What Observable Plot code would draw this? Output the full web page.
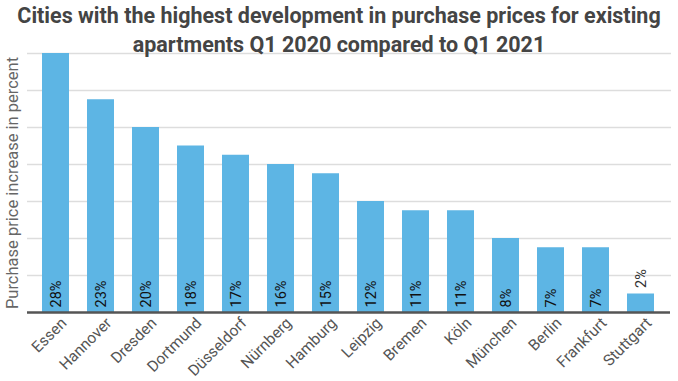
<!DOCTYPE html>
<html>
<head>
<meta charset="utf-8">
<script src="https://cdn.jsdelivr.net/npm/d3@7"></script>
<script src="https://cdn.jsdelivr.net/npm/@observablehq/plot@0.6"></script>
<style>
  html, body { margin: 0; padding: 0; background: #fff; }
  #wrap { position: relative; width: 678px; height: 381px; font-family: Roboto, sans-serif; }
  #title { position: absolute; left: 0; top: 0; width: 678px; text-align: center; font-weight: bold; font-size: 21.5px; line-height: 29px; color: #444; padding-top: 1px; z-index: 2; pointer-events: none; }
  #chart { position: absolute; left: 0; top: 0; }
</style>
</head>
<body>
<div id="wrap">
  <div id="title">Cities with the highest development in purchase prices for existing<br>apartments Q1 2020 compared to Q1 2021</div>
  <div id="chart"></div>
</div>
<script>
const cities = ["Essen", "Hannover", "Dresden", "Dortmund", "Düsseldorf", "Nürnberg", "Hamburg", "Leipzig", "Bremen", "Köln", "München", "Berlin", "Frankfurt", "Stuttgart"];
const increases = [28, 23, 20, 18, 17, 16, 15, 12, 11, 11, 8, 7, 7, 2];
const gridTicks = [0, 4, 8, 12, 16, 20, 24, 28];
const yLabel = "Purchase price increase in percent";

const data = cities.map((c, i) => ({city: c, v: increases[i]}));

const chart = Plot.plot({
  width: 678,
  height: 381,
  marginTop: 53,
  marginBottom: 69,
  marginLeft: 31,
  marginRight: 13,
  style: {fontFamily: "Roboto, sans-serif", background: "transparent"},
  x: {domain: cities, paddingInner: 0.4, paddingOuter: 0.2, label: null},
  y: {domain: [0, 28], label: null},
  marks: [
    Plot.ruleY(gridTicks.filter(t => t > 0), {stroke: "#dddddd", strokeWidth: 1.5, insetLeft: -4, insetRight: -6}),
    Plot.barY(data, {x: "city", y: "v", fill: "#5db5e4"}),
    Plot.ruleY([0], {stroke: "#555555", strokeWidth: 2.5, insetLeft: -4, insetRight: -5}),
    Plot.text(data.filter(d => d.v >= 5), {x: "city", y: 0, text: d => d.v + "%", rotate: -90, textAnchor: "start", lineAnchor: "middle", dy: -5, fontSize: 14.5, fill: "#111"}),
    Plot.text(data.filter(d => d.v < 5), {x: "city", y: "v", text: d => d.v + "%", rotate: -90, textAnchor: "start", lineAnchor: "middle", dy: -6, fontSize: 14.5, fill: "#333"}),
    Plot.axisX({tickSize: 0, tickRotate: -45, fontSize: 15.5, fill: "#555", tickPadding: 6, dx: 8, dy: 2}),
    Plot.axisY({ticks: [], tickSize: 0, label: null}),
    Plot.text([yLabel], {frameAnchor: "left", rotate: -90, dx: -19, fontSize: 16.5, fill: "#666", lineAnchor: "middle", textAnchor: "middle", dy: 0})
  ]
});
document.getElementById("chart").appendChild(chart);
</script>
</body>
</html>
